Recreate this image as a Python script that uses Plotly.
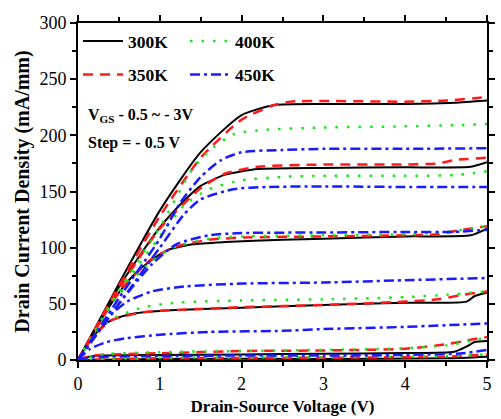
import plotly.graph_objects as go

# ---- data ----
# 300K (black, solid)
k300_x = [
    [0, 0.5, 1.0, 1.5, 2.0, 2.4, 3.0, 4.0, 4.6, 5.0],
    [0, 0.5, 1.0, 1.3, 1.5, 1.8, 2.2, 3.0, 4.0, 4.8, 5.0],
    [0, 0.3, 0.5, 0.7, 0.9, 1.1, 1.4, 1.8, 2.5, 3.0, 4.0, 4.8, 5.0],
    [0, 0.1, 0.2, 0.3, 0.4, 0.6, 0.8, 1.2, 2.0, 3.0, 4.0, 4.75, 4.85, 5.0],
    [0, 0.1, 0.3, 1.0, 2.0, 3.0, 4.0, 4.6, 4.75, 4.85, 5.0],
    [0, 1.0, 3.0, 4.5, 5.0],
]
k300_y = [
    [0, 68, 133, 185, 218, 227, 228, 228, 229, 231],
    [0, 65, 118, 142, 155, 165, 170, 171, 171.5, 172, 176],
    [0, 38, 60, 77, 89, 98, 103, 105, 107, 108, 110, 111, 117],
    [0, 12, 22, 30, 35, 40, 42.5, 44.5, 46.5, 49, 51, 52, 57, 60],
    [0, 2.5, 4, 4.5, 5, 5.5, 6.2, 7.4, 12, 16, 17],
    [0, 1, 1, 1.5, 3],
]
# 350K (red, dashed)
k350_x = [
    [0, 0.5, 1.0, 1.5, 2.0, 2.4, 2.6, 3.0, 4.0, 4.5, 5.0],
    [0, 0.5, 1.0, 1.5, 1.8, 2.2, 3.0, 4.0, 4.4, 4.6, 5.0],
    [0, 0.5, 0.9, 1.2, 1.6, 2.0, 3.0, 4.0, 4.4, 4.7, 5.0],
    [0, 0.2, 0.4, 0.8, 1.5, 2.0, 3.0, 4.0, 4.4, 4.7, 5.0],
    [0, 0.2, 1.0, 2.0, 3.0, 4.0, 4.5, 4.8, 5.0],
    [0, 1.0, 3.0, 4.5, 5.0],
]
k350_y = [
    [0, 66, 128, 180, 214, 227, 230, 230.5, 230, 231, 234],
    [0, 63, 117, 153, 166, 172, 174, 174, 175, 178, 180],
    [0, 60, 90, 101, 107, 109, 110, 111, 112, 116, 119],
    [0, 22, 35, 42.5, 45.5, 47, 49, 52, 54, 58, 61],
    [0, 4, 6, 8, 8.5, 10, 14, 18, 20.5],
    [0, 1.5, 2, 3, 5],
]
# 400K (green, dotted)
k400_x = [
    [0, 0.5, 1.0, 1.4, 1.6, 1.9, 2.3, 3.0, 4.0, 4.6, 5.0],
    [0, 0.5, 1.0, 1.3, 1.6, 2.0, 2.5, 3.0, 4.0, 4.6, 4.8, 5.0],
    [0, 0.5, 0.9, 1.2, 1.6, 2.0, 3.0, 4.0, 4.5, 4.8, 5.0],
    [0, 0.2, 0.4, 0.8, 1.2, 2.0, 3.0, 4.0, 4.5, 5.0],
    [0, 0.3, 1.0, 2.0, 3.0, 4.0, 4.5, 5.0],
    [0, 1.0, 3.0, 4.5, 5.0],
]
k400_y = [
    [0, 62, 118, 170, 186, 201, 205, 207, 208, 209, 210],
    [0, 60, 110, 138, 152, 160, 163, 164, 164, 164.5, 166, 168],
    [0, 58, 88, 101, 108, 110, 111, 112, 114, 117, 119],
    [0, 22, 36, 47, 51, 53, 54, 56, 58, 61],
    [0, 5, 7, 8, 9, 10.5, 13, 20],
    [0, 2, 2.5, 3.5, 5],
]
# 450K (blue, dash-dot)
k450_x = [
    [0, 0.5, 1.0, 1.25, 1.5, 1.75, 2.0, 2.5, 3.0, 4.0, 5.0],
    [0, 0.5, 1.0, 1.3, 1.5, 1.9, 2.3, 3.0, 4.0, 5.0],
    [0, 0.5, 0.9, 1.2, 1.6, 2.0, 3.0, 4.0, 4.6, 5.0],
    [0, 0.2, 0.4, 0.6, 0.9, 1.3, 2.0, 3.0, 4.0, 5.0],
    [0, 0.15, 0.35, 0.6, 1.0, 1.6, 2.5, 3.0, 4.0, 5.0],
    [0, 0.2, 1.0, 2.0, 3.0, 4.0, 4.7, 5.0],
]
k450_y = [
    [0, 55, 108, 140, 163, 178, 185, 187, 188, 188, 188.5],
    [0, 50, 100, 130, 143, 152, 154, 154.5, 154, 154],
    [0, 50, 85, 103, 111, 113, 113.5, 114, 114, 116],
    [0, 20, 40, 52, 61, 65.5, 68, 69, 71, 73],
    [0, 10, 16, 19.5, 22.5, 25, 26, 27.5, 29.5, 32.5],
    [0, 2.5, 3.5, 4, 4, 4.5, 6, 9],
]

x_ticks = [0, 1, 2, 3, 4, 5]
y_ticks = [0, 50, 100, 150, 200, 250, 300]

styles = {
    "300K": dict(color="black", width=2, dash="solid"),
    "350K": dict(color="#ff1a1a", width=2.5, dash="10px,7px"),
    "400K": dict(color="#19e619", width=2.5, dash="2.5px,9px"),
    "450K": dict(color="#1a1aff", width=2.5, dash="10px,4px,3px,4px"),
}
legend_of = {"300K": "legend", "400K": "legend", "350K": "legend2", "450K": "legend2"}

fig = go.Figure()
for name, xs, ys in [("300K", k300_x, k300_y), ("350K", k350_x, k350_y),
                     ("400K", k400_x, k400_y), ("450K", k450_x, k450_y)]:
    for i, (xx, yy) in enumerate(zip(xs, ys)):
        fig.add_trace(go.Scatter(
            x=xx, y=yy, mode="lines", name=name,
            line=dict(shape="spline", smoothing=0.6, **styles[name]),
            showlegend=(i == 0), legend=legend_of[name],
        ))

font_family = "Liberation Serif"
legend_common = dict(
    orientation="h", xanchor="left", yanchor="top",
    font=dict(family=font_family, size=17.5, color="black", weight="bold"),
    bgcolor="rgba(0,0,0,0)", entrywidth=52, entrywidthmode="pixels",
    itemwidth=40, tracegroupgap=0,
)

fig.update_layout(
    width=501, height=419,
    margin=dict(l=78, r=6, t=23, b=59),
    paper_bgcolor="white", plot_bgcolor="white",
    legend=dict(x=0.0, y=1.0, traceorder="normal", **legend_common),
    legend2=dict(x=0.0, y=0.9, traceorder="normal", **legend_common),
    font=dict(family=font_family, color="black"),
)
axis_common = dict(
    showline=True, linewidth=2, linecolor="black", mirror="ticks",
    ticks="outside", ticklen=6, tickwidth=1.5, tickcolor="black",
    showgrid=False, zeroline=False,
    tickfont=dict(family=font_family, size=18, color="black"),
)
fig.update_xaxes(
    range=[0, 5], tickvals=x_ticks, ticktext=[str(v) for v in x_ticks],
    minor=dict(dtick=0.5, ticks="outside", ticklen=4, tickcolor="black", showgrid=False),
    title=dict(text="<b>Drain-Source Voltage (V)</b>", standoff=8,
               font=dict(family=font_family, size=17, color="black")),
    **axis_common,
)
fig.update_yaxes(
    range=[0, 300], tickvals=y_ticks, ticktext=[str(v) for v in y_ticks],
    minor=dict(dtick=25, ticks="outside", ticklen=4, tickcolor="black", showgrid=False),
    title=dict(text="<b>Drain Current Density (mA/mm)</b>", standoff=4,
               font=dict(family=font_family, size=20, color="black")),
    **axis_common,
)

fig.add_annotation(
    x=0.02, y=0.725, xref="paper", yref="paper", xanchor="left", yanchor="middle",
    text="<b>V<sub>GS</sub> - 0.5 ~ - 3V</b>", showarrow=False,
    font=dict(family=font_family, size=16, color="black"),
)
fig.add_annotation(
    x=0.02, y=0.645, xref="paper", yref="paper", xanchor="left", yanchor="middle",
    text="<b>Step = - 0.5 V</b>", showarrow=False,
    font=dict(family=font_family, size=16, color="black"),
)

fig.write_html("out.html")
